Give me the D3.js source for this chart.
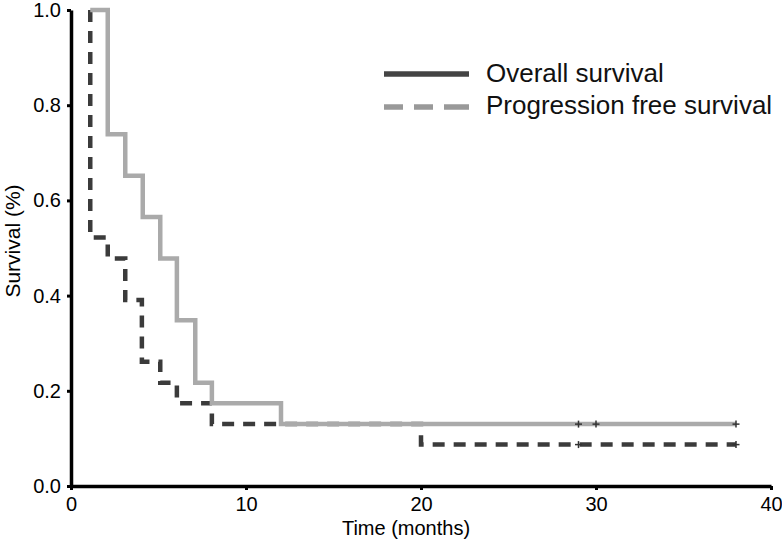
<!DOCTYPE html>
<html>
<head>
<meta charset="utf-8">
<script src="https://cdn.jsdelivr.net/npm/d3@7"></script>
<style>
  body { margin: 0; background: #fff; }
  svg { display: block; font-family: "Liberation Sans", Arial, sans-serif; }
</style>
</head>
<body>
<div id="chart"></div>
<script>
// Kaplan-Meier steps (time in months, survival fraction)
const solidTimes = [1.1, 2.1, 3.1, 4.1, 5.1, 6.05, 7.1, 8.05, 12, 38];
const solidSurv  = [1.0, 0.739, 0.652, 0.565, 0.478, 0.348, 0.217, 0.174, 0.130, 0.130];
const solidCensor = [29, 30, 38];

const dashTimes = [1.1, 1.1, 2.1, 3.1, 4.05, 5.1, 6.05, 8.05, 20, 38];
const dashSurv  = [1.0, 0.522, 0.478, 0.391, 0.261, 0.217, 0.174, 0.130, 0.087, 0.087];
const dashCensor = [29, 38];

const xTicks = [0, 10, 20, 30, 40];
const yTicks = [0, 0.2, 0.4, 0.6, 0.8, 1.0];
const legendLabels = ["Overall survival", "Progression free survival"];

const width = 782, height = 542;

const svg = d3.select("#chart").append("svg")
  .attr("width", width)
  .attr("height", height);

const x = d3.scaleLinear().domain([0, 40]).range([71, 771]);
const y = d3.scaleLinear().domain([0, 1]).range([486, 10]);

// Axes
const xAxis = svg.append("g")
  .attr("transform", `translate(0,${y(0)})`)
  .call(d3.axisBottom(x).tickValues(xTicks).tickSizeInner(4).tickSizeOuter(0).tickPadding(7));

const yAxis = svg.append("g")
  .attr("transform", `translate(${x(0)},0)`)
  .call(d3.axisLeft(y).tickValues(yTicks).tickFormat(d3.format(".1f")).tickSizeInner(4).tickSizeOuter(0).tickPadding(6));

[xAxis, yAxis].forEach(a => {
  a.select(".domain").attr("stroke", "#000").attr("stroke-width", 3.5);
  a.selectAll(".tick line").attr("stroke", "#000").attr("stroke-width", 3);
  a.selectAll(".tick text").attr("fill", "#000").style("font-size", "20px")
    .style("font-family", "\"Liberation Sans\", Arial, sans-serif");
});

// Axis titles
svg.append("text")
  .attr("x", 406)
  .attr("y", 535)
  .attr("text-anchor", "middle")
  .style("font-size", "20px")
  .text("Time (months)");

svg.append("text")
  .attr("transform", "translate(20,241) rotate(-90)")
  .attr("text-anchor", "middle")
  .style("font-size", "21px")
  .text("Survival (%)");

// Curves
const line = d3.line()
  .x(d => x(d[0]))
  .y(d => y(d[1]))
  .curve(d3.curveStepAfter);

const solidData = solidTimes.map((t, i) => [t, solidSurv[i]]);
const dashData = dashTimes.map((t, i) => [t, dashSurv[i]]);

svg.append("path")
  .datum(dashData)
  .attr("fill", "none")
  .attr("stroke", "#3b3b3b")
  .attr("stroke-width", 4.5)
  .attr("stroke-dasharray", "12,9")
  .attr("d", line);

svg.append("path")
  .datum(solidData)
  .attr("fill", "none")
  .attr("stroke", "#aaaaaa")
  .attr("stroke-width", 4.5)
  .attr("d", line);

// Censor marks
function drawCensor(times, level) {
  const g = svg.append("g").attr("stroke", "#333").attr("stroke-width", 1.5);
  times.forEach(t => {
    g.append("line")
      .attr("x1", x(t) - 3.5).attr("x2", x(t) + 3.5)
      .attr("y1", y(level)).attr("y2", y(level));
    g.append("line")
      .attr("x1", x(t)).attr("x2", x(t))
      .attr("y1", y(level) - 3.5).attr("y2", y(level) + 3.5);
  });
}
drawCensor(solidCensor, solidSurv[solidSurv.length - 1]);
drawCensor(dashCensor, dashSurv[dashSurv.length - 1]);

// Legend
const legend = svg.append("g");
legend.append("line")
  .attr("x1", 384).attr("x2", 469)
  .attr("y1", 74).attr("y2", 74)
  .attr("stroke", "#444")
  .attr("stroke-width", 5.5);
legend.append("line")
  .attr("x1", 384).attr("x2", 469)
  .attr("y1", 107).attr("y2", 107)
  .attr("stroke", "#999")
  .attr("stroke-width", 5.5)
  .attr("stroke-dasharray", "19,11,19,11,26");

legend.selectAll("text.lab")
  .data(legendLabels)
  .enter()
  .append("text")
  .attr("class", "lab")
  .attr("x", 486)
  .attr("y", (d, i) => 82 + i * 32)
  .style("font-size", "26px")
  .attr("fill", "#111")
  .text(d => d);
</script>
</body>
</html>
